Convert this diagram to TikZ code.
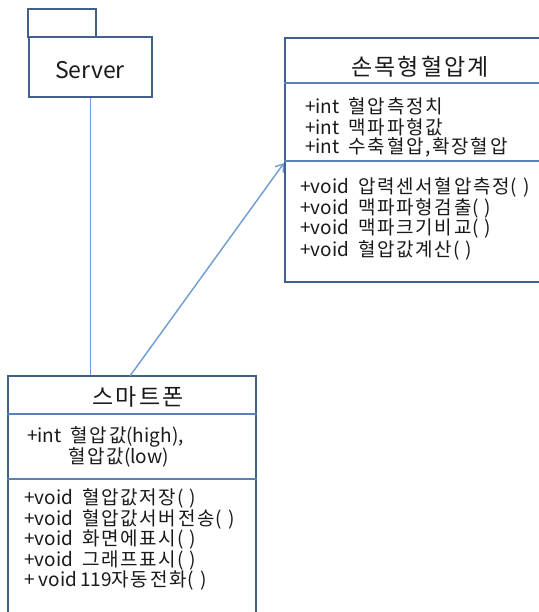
\documentclass[tikz,border=0pt]{standalone}
\usepackage{fontspec}
\setmainfont{Noto Sans CJK KR}
% Hangul runs are set a little looser than the Latin ones
\newfontfamily\krfont[LetterSpace=9]{Noto Sans CJK KR}
\newcommand\kr[1]{{\krfont #1}}
\usetikzlibrary{arrows.meta}
\definecolor{umlframe}{HTML}{41618C}
\definecolor{umlrule}{HTML}{5A82B8}
\definecolor{umllink}{HTML}{6E9BD2}
\definecolor{umltext}{HTML}{1A1A1A}
% wide gap between a type keyword and the member name
\newcommand\tgap{\hspace{9bp}}
\newcommand\noargs{\hspace{1bp}(\hspace{6bp})}
\tikzset{
  frame/.style={draw=umlframe, line width=2.2bp, inner sep=0pt},
  rule/.style={draw=umlrule, line width=1.2bp},
  link/.style={draw=umllink, line width=1.4bp},
  title/.style={font=\fontsize{23bp}{26bp}\selectfont, text=umltext, inner sep=0pt},
  member/.style={font=\fontsize{19bp}{21bp}\selectfont, text=umltext, anchor=west, inner sep=0pt},
}
\begin{document}
\begin{tikzpicture}[x=1bp,y=-1bp]
  \useasboundingbox (0,0) rectangle (539,612);
  \clip (0,0) rectangle (539,612);
  \fill[white] (0,0) rectangle (539,612);

  % Server package: tab and body
  \node[frame, minimum width=68bp, minimum height=28bp] (tab) at (62,23) {};
  \node[frame, fill=white, minimum width=123bp, minimum height=60bp] (server) at (90.5,67) {};
  \node[title] (servername) at (90,70) {Server};

  % class 손목형혈압계 (right edge runs off the page)
  \node[frame, minimum width=264bp, minimum height=244bp] (meter) at (417,160) {};
  \draw[rule] (meter.west |- 0,83) -- (meter.east |- 0,83);
  \draw[rule] (meter.west |- 0,161) -- (meter.east |- 0,161);
  \node[title] (metername) at (420,67) {\kr{손목형혈압계}};
  \node[member] (ma1) at (305,106) {+int\tgap\kr{혈압측정치}};
  \node[member] (ma2) at (305,127) {+int\tgap\kr{맥파파형값}};
  \node[member] (ma3) at (305,147) {+int\tgap\kr{수축혈압,확장혈압}};
  \node[member] (mm1) at (300,187) {+void\tgap\kr{압력센서혈압측정}\noargs};
  \node[member] (mm2) at (300,208) {+void\tgap\kr{맥파파형검출}\noargs};
  \node[member] (mm3) at (300,229) {+void\tgap\kr{맥파크기비교}\noargs};
  \node[member] (mm4) at (300,250) {+void\tgap\kr{혈압값계산}\noargs};

  % class 스마트폰 (bottom edge runs off the page)
  \node[frame, minimum width=248bp, minimum height=260bp] (phone) at (132,506) {};
  \draw[rule] (phone.west |- 0,414) -- (phone.east |- 0,414);
  \draw[rule] (phone.west |- 0,479) -- (phone.east |- 0,479);
  \node[title] (phonename) at (138,397) {\kr{스마트폰}};
  \node[member] (pa1) at (27,437) {+int\tgap\kr{혈압값}(high),};
  \node[member] (pa2) at (68,457) {\kr{혈압값}(low)};
  \node[member] (pm1) at (24,498) {+void\tgap\kr{혈압값저장}\noargs};
  \node[member] (pm2) at (24,519) {+void\tgap\kr{혈압값서버전송}\noargs};
  \node[member] (pm3) at (24,539) {+void\tgap\kr{화면에표시}\noargs};
  \node[member] (pm4) at (24,560) {+void\tgap\kr{그래프표시}\noargs};
  \node[member] (pm5) at (24,580) {+\hspace{4bp}void\hspace{3bp}119\kr{자동전화}\noargs};

  % connectors
  \coordinate (phonetop) at (130,376);
  \coordinate (meterside) at (284,163);
  \draw[link] (server.south) -- (server.south |- phone.north);
  \draw[link, -{Straight Barb[length=7bp, width=10bp, line width=1.4bp]}] (phonetop) -- (meterside);
\end{tikzpicture}
\end{document}
